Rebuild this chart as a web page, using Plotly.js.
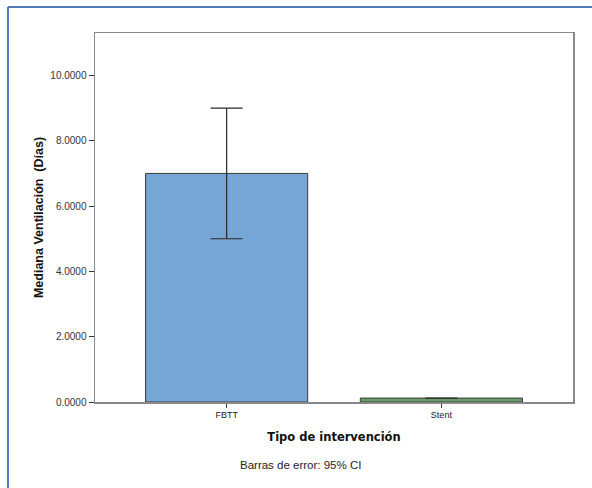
<!DOCTYPE html>
<html>
<head>
<meta charset="utf-8">
<script src="https://cdn.plot.ly/plotly-3.0.1.min.js"></script>
<style>html,body{margin:0;padding:0;background:#fff;}#chart{width:592px;height:488px;}</style>
</head>
<body>
<div id="chart"></div>
<script>
const categories = ["FBTT", "Stent"];
const medians = [7.0, 0.12];
const ciUpper = [2.0, 0.0];
const ciLower = [2.0, 0.0];
const barColors = ["#76a6d6", "#6a9e68"];
const yTicks = [0, 2, 4, 6, 8, 10];
const footnote = "Barras de error: 95% CI";

const trace = {
  type: "bar",
  x: categories,
  y: medians,
  width: 0.755,
  marker: {color: barColors, line: {color: "#3a3a3a", width: 1}},
  error_y: {type: "data", symmetric: false, array: ciUpper, arrayminus: ciLower,
            color: "#2a2a2a", thickness: 1.2, width: 16},
  hoverinfo: "none"
};

const layout = {
  width: 592, height: 488,
  margin: {l: 95, r: 19, t: 33, b: 86},
  paper_bgcolor: "#ffffff", plot_bgcolor: "#ffffff",
  font: {family: "Liberation Sans, Arial, sans-serif", color: "#222"},
  showlegend: false,
  xaxis: {
    range: [-0.613, 1.613],
    showline: true, linecolor: "#888", linewidth: 1.5, mirror: true,
    ticks: "outside", ticklen: 4, tickcolor: "#333",
    tickfont: {size: 9, color: "#222"},
    showgrid: false, zeroline: false,
    title: {text: "Tipo de intervención", font: {size: 11.5, color: "#111", family: "DejaVu Sans, sans-serif", weight: "bold"}, standoff: 13}
  },
  yaxis: {
    range: [0, 11.3],
    tickvals: yTicks, tickformat: ".4f",
    showline: true, linecolor: "#888", linewidth: 1.5, mirror: true,
    ticks: "outside", ticklen: 5, tickcolor: "#333",
    tickfont: {size: 10, color: "#333"},
    showgrid: false, zeroline: false,
    title: {text: "Mediana Ventilación  (Días)", font: {size: 12.5, color: "#111", family: "Liberation Sans, Arial, sans-serif", weight: "bold"}, standoff: 4}
  },
  annotations: [{
    text: footnote, xref: "paper", yref: "paper", x: 0.429, y: -0.171,
    xanchor: "center", yanchor: "middle", showarrow: false,
    font: {size: 11.5, color: "#222"}
  }],
  shapes: [
    {type: "line", xref: "paper", yref: "paper", x0: -0.182, x1: -0.182, y0: -0.25, y1: 1.0705,
     line: {color: "#4f7db8", width: 2}},
    {type: "line", xref: "paper", yref: "paper", x0: -0.182, x1: 1.05, y0: 1.0705, y1: 1.0705,
     line: {color: "#4f7db8", width: 2}}
  ]
};

Plotly.newPlot("chart", [trace], layout, {displayModeBar: false, staticPlot: true});
</script>
</body>
</html>
